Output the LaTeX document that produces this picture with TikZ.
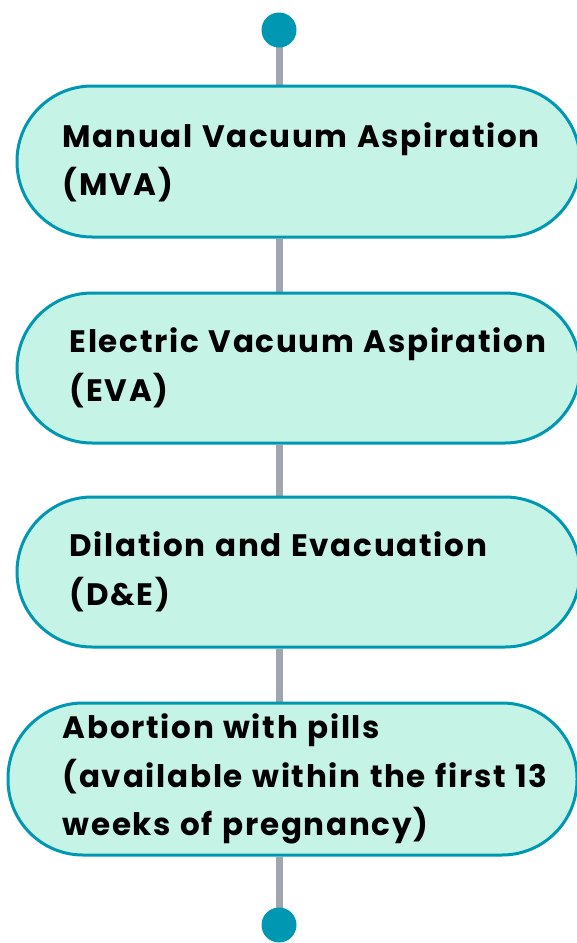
\documentclass[tikz,border=0pt]{standalone}
\usepackage{fontspec}
\setmainfont{Poppins}
\newfontfamily\lblfont{Poppins}[LetterSpace=5.5, WordSpace=1.15]
\usetikzlibrary{backgrounds}
\definecolor{teal}{HTML}{0097B2}
\definecolor{mint}{HTML}{C5F4E6}
\definecolor{conngray}{HTML}{A1A5AD}
\tikzset{
  stadium/.style={draw=teal, fill=mint, line width=3pt, rounded corners=75pt, inner sep=0pt},
  enddot/.style={circle, fill=teal, minimum size=35pt, inner sep=0pt},
  lbl/.style={anchor=west, align=left, inner sep=0pt, font=\lblfont\fontsize{31}{48.5}\selectfont\bfseries},
  conn/.style={draw=conngray, line width=7pt},
}
\begin{document}
\begin{tikzpicture}[x=1pt,y=-1pt]
\useasboundingbox (0,0) rectangle (577,943);
\clip (0,0) rectangle (577,943);
\node[enddot] (d0) at (279,30) {};
\node[stadium, minimum width=563pt, minimum height=151pt] (b1) at (298.5,161.5) {};
\node[stadium, minimum width=563pt, minimum height=150pt] (b2) at (298.5,368) {};
\node[stadium, minimum width=563pt, minimum height=150pt] (b3) at (298.5,572) {};
\node[stadium, minimum width=569pt, minimum height=152pt] (b4) at (292.5,779) {};
\node[enddot] (d1) at (279,925) {};
\node[lbl] (t1) at ([xshift=47pt,yshift=-1pt]b1.west) {Manual Vacuum Aspiration\\(MVA)};
\node[lbl] (t2) at ([xshift=54pt]b2.west) {Electric Vacuum Aspiration\\(EVA)};
\node[lbl] (t3) at ([xshift=54pt]b3.west) {Dilation and Evacuation\\(D\&E)};
\node[lbl] (t4) at ([xshift=56pt]b4.west) {Abortion with pills\\(available within the first 13\\weeks of pregnancy)};
\begin{pgfonlayer}{background}
\draw[conn] (d0.center) -- (d0 |- b1.north);
\draw[conn] (d0 |- b1.south) -- (d0 |- b2.north);
\draw[conn] (d0 |- b2.south) -- (d0 |- b3.north);
\draw[conn] (d0 |- b3.south) -- (d0 |- b4.north);
\draw[conn] (d0 |- b4.south) -- (d1.center);
\end{pgfonlayer}
\end{tikzpicture}
\end{document}
